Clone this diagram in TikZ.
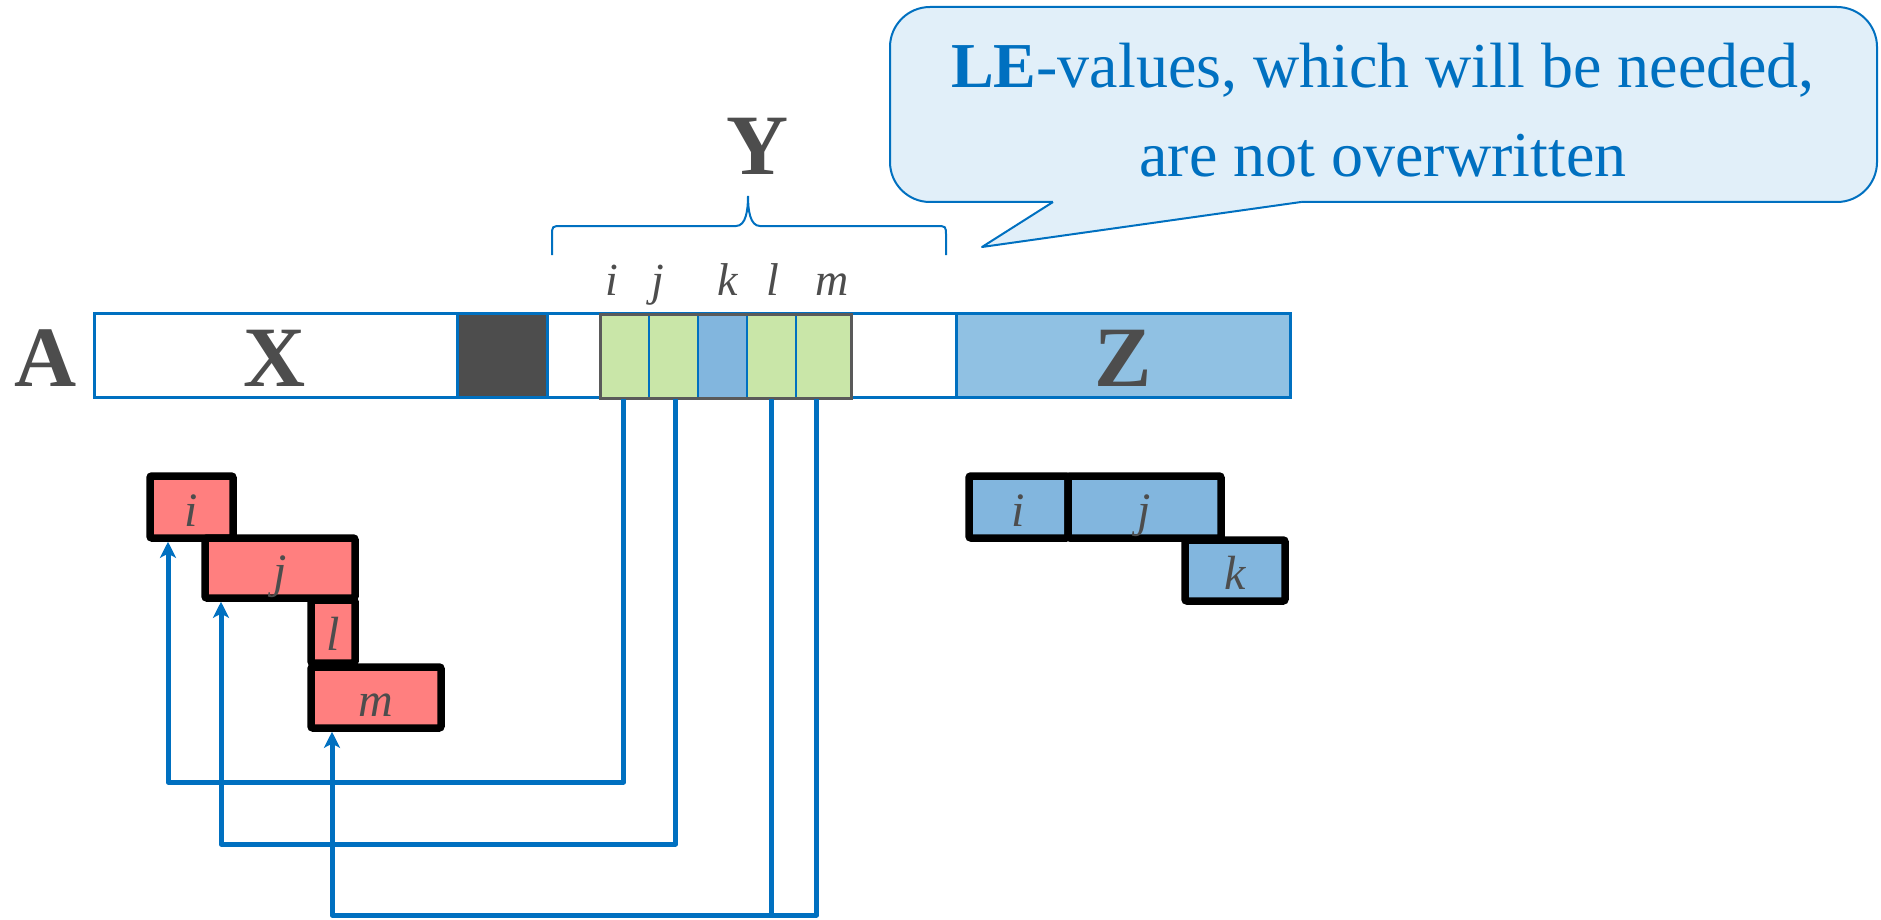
\documentclass[tikz,border=0pt]{standalone}
\usepackage{fontspec}
\setmainfont{Liberation Serif}
\usetikzlibrary{arrows.meta}
\definecolor{lineblue}{HTML}{0070C0}
\definecolor{txtgray}{HTML}{4D4D4D}
\definecolor{cellgreen}{HTML}{C9E6A8}
\definecolor{cellblue}{HTML}{82B6DE}
\definecolor{zfill}{HTML}{90C1E3}
\definecolor{redfill}{HTML}{FF7F7F}
\definecolor{notefill}{HTML}{E1EFF9}
\definecolor{cellgray}{HTML}{5A5A5A}
\definecolor{darkfill}{HTML}{4D4D4D}

\begin{document}
\begin{tikzpicture}[x=1pt,y=-1pt,
  bigletter/.style={font=\fontsize{86}{86}\selectfont\bfseries, text=txtgray, anchor=base, inner sep=0pt},
  idx/.style={font=\fontsize{46}{46}\selectfont\itshape, text=txtgray, anchor=base, inner sep=0pt},
  segment/.style={draw=lineblue, line width=3pt, inner sep=0pt, minimum height=84pt},
  cell/.style={draw=lineblue, line width=2pt, inner sep=0pt, minimum height=84pt, minimum width=49pt},
  itembox/.style={draw=black, line width=7.5pt, rounded corners=2pt, inner sep=0pt,
    font=\fontsize{48}{48}\selectfont\itshape, text=txtgray, text height=38pt, text depth=0pt},
  redbox/.style={itembox, fill=redfill},
  bluebox/.style={itembox, fill=cellblue},
  link/.style={draw=lineblue, line width=5pt, line join=round,
    -{Stealth[length=16pt,width=16pt,inset=4pt]}},
  wire/.style={draw=lineblue, line width=5pt, line join=round},
  notetext/.style={font=\fontsize{64}{64}\selectfont, text=lineblue, anchor=base, inner sep=0pt}
]
\useasboundingbox (0,0) rectangle (1881,920);

% ---- callout ----
\node[draw=lineblue, fill=notefill, line width=2pt, rounded corners=40pt,
      minimum width=987pt, minimum height=195pt, inner sep=0pt] (note) at (1383.5,104.5) {};
\fill[notefill] (1053,198) -- (1053,202) -- (982,247) -- (1301,202) -- (1301,198) -- cycle;
\draw[lineblue, line width=2pt, line join=round] (1053,202) -- (982,247) -- (1301,202);
\node[notetext] (note1) at (1383,88) {\textbf{LE}-values, which will be needed,};
\node[notetext] (note2) at (1383,177) {are not overwritten};

% ---- array A ----
\node[segment, minimum width=1196pt] (bar) at (692,355) {};
\node[segment, minimum width=90pt, fill=darkfill] (dark) at (502,355) {};
\node[segment, minimum width=334pt, fill=zfill] (zreg) at (1123,355) {};

\node[cell, fill=cellgreen] (ci) at (624.5,356) {};
\node[cell, fill=cellgreen] (cj) at (673.5,356) {};
\node[cell, fill=cellblue]  (ck) at (722.5,356) {};
\node[cell, fill=cellgreen] (cl) at (771.5,356) {};
\node[cell, fill=cellgreen, minimum width=55pt] (cm) at (823.5,356) {};
\draw[cellgray, line width=3pt] (600,314) rectangle (851,398);

\node[bigletter] (lA) at (46,386) {A};
\node[bigletter] (lX) at (275,386) {X};
\node[bigletter] (lZ) at (1123,386) {Z};
\node[bigletter] (lY) at (758,175) {Y};

\node[idx] (ti) at (612,295) {i};
\node[idx] (tj) at (658,295) {j};
\node[idx] (tk) at (728,295) {k};
\node[idx] (tl) at (773,295) {l};
\node[idx] (tm) at (832,295) {m};

% brace over Y
\draw[lineblue, line width=2pt]
  (552,255) -- (552,236) .. controls (552,226) .. (562,226) -- (736,226)
  .. controls (746,226) and (748,210) .. (748,196)
  .. controls (748,210) and (750,226) .. (760,226) -- (936,226)
  .. controls (946,226) .. (946,236) -- (946,255);

% ---- red boxes ----
\node[redbox, minimum width=83pt, minimum height=62pt] (ri) at (191.5,507) {i};
\node[redbox, minimum width=150pt, minimum height=60pt] (rj) at (280,568) {j};
\node[redbox, minimum width=44pt, minimum height=63pt] (rl) at (333,631.5) {l};
\node[redbox, minimum width=130pt, minimum height=61pt] (rm) at (376,697.5) {m};

% ---- blue boxes ----
\node[bluebox, minimum width=99pt, minimum height=62pt] (bi) at (1018.5,507) {i};
\node[bluebox, minimum width=153pt, minimum height=62pt] (bj) at (1144.5,507) {j};
\node[bluebox, minimum width=100pt, minimum height=61pt] (bk) at (1235,570.5) {k};

% ---- connectors ----
\coordinate (pi) at (168,782);
\coordinate (pj) at (221,844);
\coordinate (pl) at (332,915);
\draw[link] ([xshift=-1pt]ci.south) |- (pi) -- (pi |- ri.south);
\draw[link] ([xshift=2pt]cj.south) |- (pj) -- (pj |- rj.south);
\draw[link] (cl.south) |- (pl) -- (pl |- rm.south);
\draw[wire] ([xshift=-7pt]cm.south) |- (cl.south |- pl);
\end{tikzpicture}
\end{document}
